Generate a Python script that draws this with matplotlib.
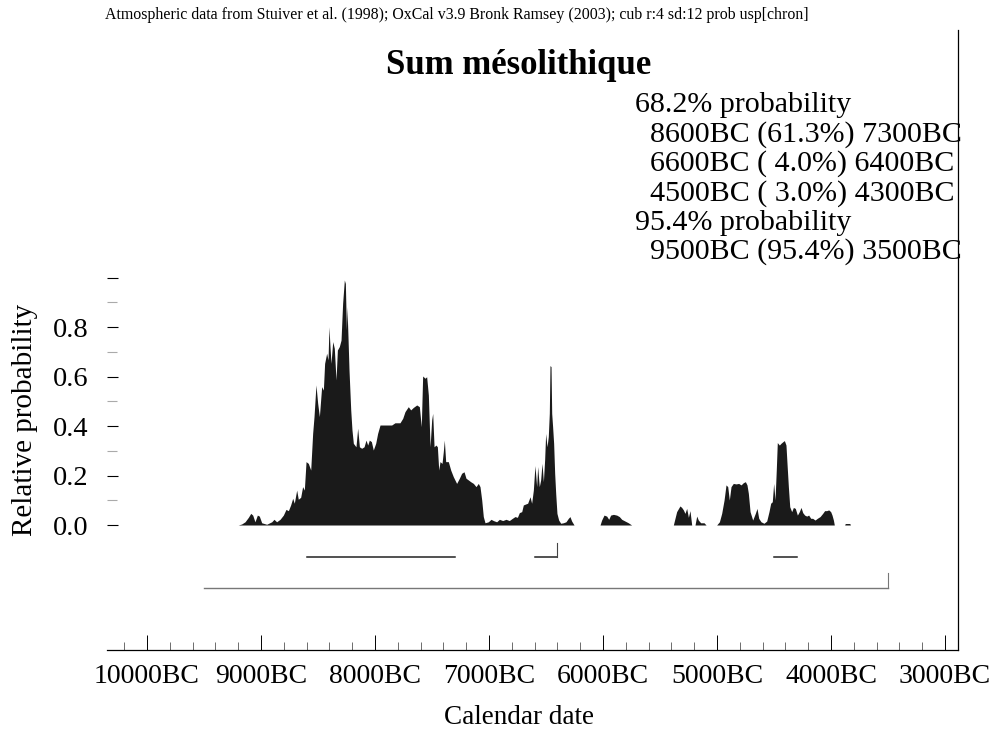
import numpy as np
import matplotlib.pyplot as plt
from matplotlib.ticker import MultipleLocator

plt.rcParams['font.family'] = ['Liberation Serif', 'DejaVu Serif']

# summed calibrated probability (calendar years BC, relative probability)
years_bc = [
    9200, 9170, 9140, 9111, 9090, 9073, 9053, 9032, 9015, 8994, 8950, 8906, 8886,
    8863, 8833, 8804, 8781, 8760, 8740, 8722, 8708, 8687, 8673, 8652, 8635, 8620,
    8605, 8585, 8564, 8547, 8535, 8518, 8503, 8488, 8468, 8453, 8442, 8424, 8412,
    8404, 8395, 8386, 8371, 8357, 8342, 8330, 8313, 8298, 8284, 8269, 8260, 8251,
    8246, 8237, 8228, 8213, 8202, 8190, 8167, 8152, 8137, 8117, 8096, 8079, 8064,
    8050, 8032, 8015, 7994, 7977, 7956, 7898, 7854, 7825, 7781, 7757, 7737, 7708,
    7687, 7664, 7634, 7611, 7594, 7582, 7561, 7547, 7532, 7517, 7503, 7494, 7482,
    7465, 7453, 7441, 7430, 7412, 7401, 7392, 7380, 7357, 7336, 7313, 7284, 7260,
    7240, 7219, 7202, 7181, 7161, 7137, 7114, 7094, 7079, 7064, 7050, 7035, 7006,
    6982, 6962, 6933, 6909, 6880, 6851, 6822, 6795, 6772, 6751, 6734, 6713, 6699,
    6678, 6661, 6640, 6626, 6611, 6597, 6582, 6573, 6559, 6547, 6535, 6523, 6512,
    6503, 6491, 6480, 6471, 6465, 6456, 6450, 6442, 6433, 6424, 6415, 6404, 6389,
    6371, 6348, 6325, 6304, 6290, 6275, 6254,
    6026, 6012, 5991, 5968, 5950, 5933, 5909, 5880, 5857, 5836, 5807, 5778, 5749,
    5383, 5354, 5325, 5310, 5295, 5281, 5266, 5251, 5237, 5222,
    5193, 5178, 5164, 5143, 5114, 5096,
    5003, 4979, 4959, 4938, 4921, 4906, 4892, 4877, 4857, 4833, 4810, 4789, 4769,
    4751, 4737, 4725, 4710, 4687, 4664, 4649, 4634, 4614, 4588, 4564, 4544, 4529,
    4515, 4503, 4491, 4480, 4471, 4453, 4439, 4421, 4409, 4395, 4386, 4374, 4362,
    4345, 4330, 4313, 4295, 4278, 4263, 4248, 4231, 4213, 4196, 4178, 4161, 4140,
    4120, 4096, 4073, 4056, 4038, 4020, 4003, 3991, 3979, 3971,
    3880, 3875, 3835, 3830,
]
prob = [
    0.0, 0.004, 0.013, 0.031, 0.047, 0.040, 0.013, 0.040, 0.036, 0.009, 0.003, 0.013, 0.023,
    0.013, 0.023, 0.040, 0.063, 0.058, 0.081, 0.108, 0.088, 0.141, 0.104, 0.112, 0.155, 0.141,
    0.256, 0.249, 0.222, 0.370, 0.438, 0.566, 0.492, 0.438, 0.559, 0.545, 0.653, 0.694, 0.667,
    0.801, 0.721, 0.653, 0.741, 0.714, 0.586, 0.707, 0.721, 0.747, 0.896, 0.990, 0.976, 0.788,
    0.882, 0.761, 0.626, 0.465, 0.384, 0.330, 0.316, 0.391, 0.316, 0.310, 0.316, 0.343, 0.323,
    0.343, 0.337, 0.303, 0.330, 0.370, 0.404, 0.404, 0.404, 0.413, 0.413, 0.431, 0.458, 0.478,
    0.465, 0.475, 0.485, 0.478, 0.397, 0.602, 0.593, 0.599, 0.525, 0.316, 0.424, 0.451, 0.316,
    0.323, 0.316, 0.222, 0.256, 0.249, 0.296, 0.343, 0.256, 0.256, 0.222, 0.195, 0.168, 0.189,
    0.209, 0.215, 0.189, 0.182, 0.175, 0.168, 0.155, 0.168, 0.155, 0.101, 0.034, 0.009, 0.013,
    0.023, 0.018, 0.013, 0.023, 0.018, 0.023, 0.018, 0.027, 0.034, 0.031, 0.050, 0.054, 0.081,
    0.085, 0.088, 0.114, 0.088, 0.141, 0.240, 0.155, 0.236, 0.155, 0.182, 0.249, 0.175, 0.263,
    0.370, 0.316, 0.357, 0.451, 0.644, 0.640, 0.451, 0.397, 0.330, 0.209, 0.128, 0.047, 0.020,
    0.007, 0.009, 0.013, 0.027, 0.034, 0.016, 0.0,
    0.0, 0.020, 0.040, 0.036, 0.023, 0.040, 0.043, 0.040, 0.034, 0.023, 0.016, 0.009, 0.0,
    0.0, 0.054, 0.077, 0.071, 0.061, 0.047, 0.067, 0.031, 0.058, 0.0,
    0.0, 0.036, 0.020, 0.009, 0.009, 0.0,
    0.0, 0.013, 0.047, 0.101, 0.162, 0.155, 0.101, 0.155, 0.168, 0.166, 0.168, 0.162, 0.171,
    0.175, 0.162, 0.128, 0.054, 0.020, 0.047, 0.067, 0.027, 0.013, 0.007, 0.016, 0.054, 0.088,
    0.094, 0.168, 0.101, 0.222, 0.333, 0.323, 0.330, 0.337, 0.341, 0.323, 0.249, 0.155, 0.074,
    0.054, 0.071, 0.067, 0.040, 0.054, 0.071, 0.050, 0.040, 0.036, 0.040, 0.027, 0.027, 0.020,
    0.027, 0.034, 0.047, 0.058, 0.058, 0.061, 0.054, 0.040, 0.020, 0.0,
    0.0, 0.006, 0.006, 0.0,
]

# highest posterior density ranges
range_68 = [(8600, 7300, 61.3), (6600, 6400, 4.0), (4500, 4300, 3.0)]
range_95 = [(9500, 3500, 95.4)]

major_years = [10000, 9000, 8000, 7000, 6000, 5000, 4000, 3000]

fig = plt.figure(figsize=(9.95, 7.42), dpi=100)
ax = fig.add_axes([107 / 995, 1 - 650 / 742, 851 / 995, 620 / 742])

x = -np.array(years_bc)
ax.fill_between(x, prob, 0, color='#1a1a1a', lw=0)

# range bars under the distribution
for start, end, _ in range_68:
    ax.plot([-start, -end], [-0.131, -0.131], color='#222222', lw=1.1)
ax.plot([-6400, -6400], [-0.131, -0.071], color='#444444', lw=0.8)
for start, end, _ in range_95:
    ax.plot([-start, -end], [-0.255, -0.255], color='#777777', lw=1.0)
    ax.plot([-end, -end], [-0.255, -0.194], color='#777777', lw=0.8)

ax.set_xlim(-10351, -2886)
ax.set_ylim(-0.505, 2.0)

ax.set_xticks([-y for y in major_years])
ax.set_xticklabels([f"{y}BC" for y in major_years])
ax.xaxis.set_minor_locator(MultipleLocator(200))
ax.tick_params(axis='x', which='major', direction='in', length=11, width=0.7,
               labelsize=20, pad=10)
ax.tick_params(axis='x', which='minor', direction='in', length=6, width=0.6,
               color='#555555')

ax.set_yticks([0, 0.2, 0.4, 0.6, 0.8, 1.0])
ax.set_yticklabels(['0.0', '0.2', '0.4', '0.6', '0.8', ''])
ax.set_yticks([0.1, 0.3, 0.5, 0.7, 0.9], minor=True)
ax.tick_params(axis='y', which='major', direction='in', length=8, width=0.8,
               labelsize=20.5, pad=13)
ax.tick_params(axis='y', which='minor', direction='in', length=7, width=0.8,
               color='#aaaaaa')

ax.spines['left'].set_visible(False)
ax.spines['top'].set_visible(False)
ax.spines['bottom'].set_linewidth(0.9)
ax.spines['right'].set_linewidth(0.9)

fig.text(25 / 995, 1 - 420 / 742, 'Relative probability', rotation=90,
         fontsize=21, ha='center', va='center')
fig.text(519 / 995, 1 - 718 / 742, 'Calendar date', fontsize=19.5,
         ha='center', va='center')

fig.text(105 / 995, 1 - 15 / 742,
         'Atmospheric data from Stuiver et al. (1998); OxCal v3.9 Bronk Ramsey '
         '(2003); cub r:4 sd:12 prob usp[chron]',
         fontsize=11.4, ha='left', va='center')
fig.text(519 / 995, 1 - 65 / 742, 'Sum mésolithique', fontsize=25,
         fontweight='bold', ha='center', va='center')

# range summary
legend_lines = [('68.2% probability', 635)]
for start, end, pct in range_68:
    legend_lines.append((f"{start}BC ({pct:4.1f}%) {end}BC", 650))
legend_lines.append(('95.4% probability', 635))
for start, end, pct in range_95:
    legend_lines.append((f"{start}BC ({pct:4.1f}%) {end}BC", 650))
for i, (line, xpos) in enumerate(legend_lines):
    fig.text(xpos / 995, 1 - (105 + 29.4 * i) / 742, line, fontsize=21.6,
             ha='left', va='center')

fig.savefig('out.png', dpi=100)
